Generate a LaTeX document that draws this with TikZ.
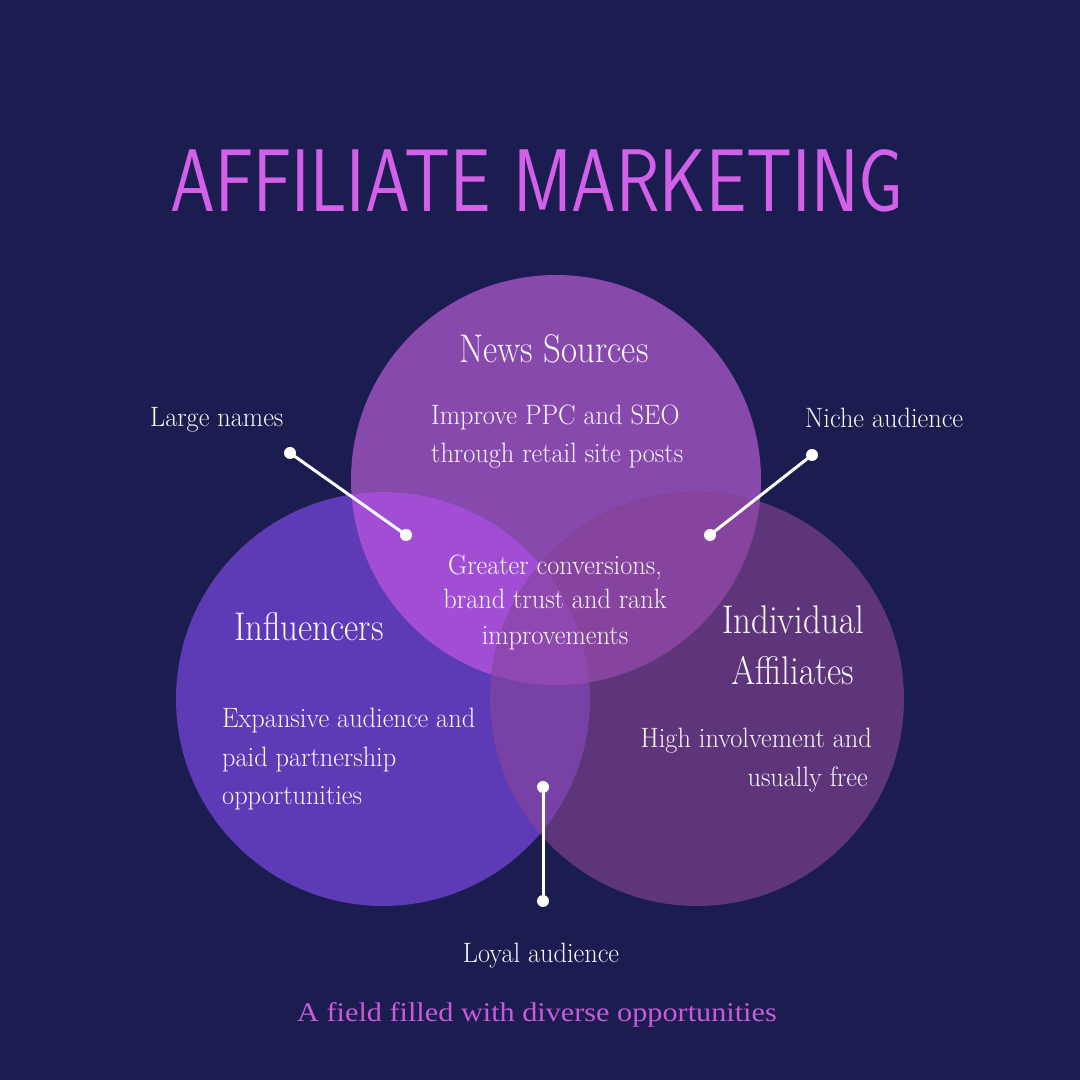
\documentclass[tikz,border=0pt]{standalone}
\usepackage{fontspec}
\newfontfamily\footfont{Liberation Serif}
\definecolor{bg}{RGB}{27,29,81}
\definecolor{newsc}{RGB}{136,73,173}
\definecolor{inflc}{RGB}{93,58,182}
\definecolor{indivc}{RGB}{94,53,122}
\definecolor{newsinfl}{RGB}{161,78,212}
\definecolor{newsindiv}{RGB}{134,68,158}
\definecolor{inflindiv}{RGB}{120,65,165}
\definecolor{triple}{RGB}{143,72,176}
\definecolor{titlec}{RGB}{210,96,232}
\definecolor{footc}{RGB}{201,90,217}
\definecolor{txt}{RGB}{251,248,252}
\tikzset{
  heading/.style={text=txt, font=\fontsize{40}{40}\selectfont, inner sep=0pt, xscale=0.87, transform shape},
  body/.style={text=txt, font=\fontsize{28}{28}\selectfont, inner sep=0pt, xscale=0.94, transform shape},
  dotnode/.style={circle, fill=white, minimum size=12pt, inner sep=0pt},
  conn/.style={white, line width=3pt},
}
\begin{document}
\begin{tikzpicture}[x=1pt,y=1pt]
\useasboundingbox[fill=bg] (0,0) rectangle (1080,1080);
% circles
\fill[newsc] (556,600) circle (205);
\fill[inflc] (383,381) circle (207);
\fill[indivc] (697,381) circle (207);
\begin{scope}
  \clip (556,600) circle (205);
  \fill[newsinfl] (383,381) circle (207);
  \fill[newsindiv] (697,381) circle (207);
\end{scope}
\begin{scope}
  \clip (383,381) circle (207);
  \fill[inflindiv] (697,381) circle (207);
\end{scope}
\begin{scope}
  \clip (556,600) circle (205);
  \clip (383,381) circle (207);
  \fill[triple] (697,381) circle (207);
\end{scope}
% title
\node[text=titlec, font=\sffamily\fontsize{89}{89}\selectfont, inner sep=0pt, anchor=base, xscale=0.805, transform shape] (title) at (537,868) {AFFILIATE MARKETING};
% headings
\node[heading, anchor=base] (news) at (554,717) {News Sources};
\node[heading, anchor=base west] (infl) at (234,439) {Influencers};
\node[heading, anchor=base] (indiv1) at (793,446) {Individual};
\node[heading, anchor=base] (indiv2) at (793,395) {Affiliates};
% body texts
\node[body, anchor=base west] (nw1) at (431,655) {Improve PPC and SEO};
\node[body, anchor=base west] (nw2) at (431,617) {through retail site posts};
\node[body, anchor=base] (gc1) at (555,505) {Greater conversions,};
\node[body, anchor=base] (gc2) at (555,471) {brand trust and rank};
\node[body, anchor=base] (gc3) at (555,435) {improvements};
\node[body, anchor=base west] (ex1) at (222,352) {Expansive audience and};
\node[body, anchor=base west] (ex2) at (222,313) {paid partnership};
\node[body, anchor=base west] (ex3) at (222,275) {opportunities};
\node[body, anchor=base east] (hi1) at (872,332) {High involvement and};
\node[body, anchor=base east] (hi2) at (868,293) {usually free};
% callouts
\node[body, anchor=base west] (large) at (150,653) {Large names};
\node[body, anchor=base west] (niche) at (805,652) {Niche audience};
\node[body, anchor=base] (loyal) at (541,117) {Loyal audience};
\node[dotnode] (d1a) at (290,627) {};
\node[dotnode] (d1b) at (406,545) {};
\node[dotnode] (d2a) at (812,625) {};
\node[dotnode] (d2b) at (710,545) {};
\node[dotnode] (d3a) at (543,293) {};
\node[dotnode] (d3b) at (543,179) {};
\draw[conn] (d1a.center) -- (d1b.center);
\draw[conn] (d2a.center) -- (d2b.center);
\draw[conn] (d3a.center) -- (d3b.center);
% footer
\node[text=footc, font=\footfont\fontsize{27}{27}\selectfont, inner sep=0pt, anchor=base, xscale=1.12, transform shape] (foot) at (537,58) {A field filled with diverse opportunities};
\end{tikzpicture}
\end{document}
